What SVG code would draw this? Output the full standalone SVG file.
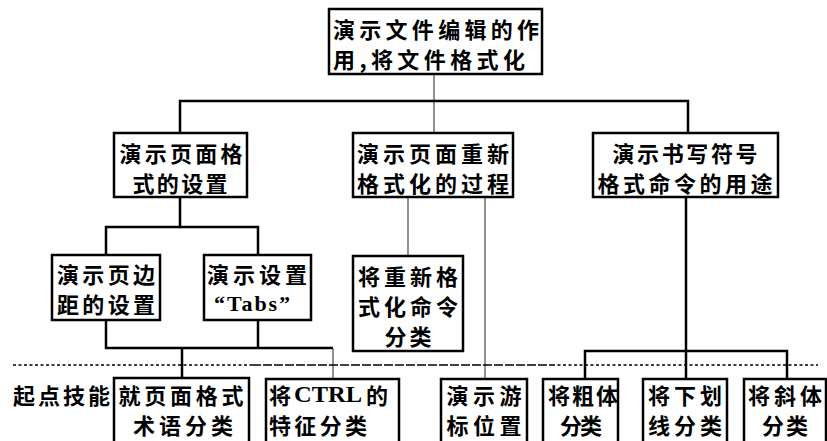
<svg xmlns="http://www.w3.org/2000/svg" width="827" height="441" viewBox="0 0 827 441">
<style>
.box{fill:#fff;stroke:#000;stroke-width:2.5}
.t{font-family:"Noto Sans CJK SC","Noto Sans CJK JP",sans-serif;font-size:22px;font-weight:700;fill:#000;dominant-baseline:central;text-anchor:middle}
.s{text-anchor:start}
.lat{font-family:"Liberation Serif",serif;font-weight:bold}
.thick{stroke:#000;stroke-width:2.5;fill:none}
.thin{stroke:#555;stroke-width:1.3;fill:none}
</style>
<rect width="827" height="441" fill="#fff"/>
<g id="connectors">
<line class="thin" x1="434" y1="74" x2="434" y2="133"/>
<polyline class="thick" points="180,133 180,101 688,101 688,133"/>
<polyline class="thick" points="180,197 180,227 106,227 106,255"/>
<polyline class="thick" points="180,227 258,227 258,255"/>
<polyline class="thick" points="106,320 106,348 333,348"/>
<line class="thick" x1="258" y1="320" x2="258" y2="348"/>
<line class="thick" x1="182" y1="348" x2="182" y2="378"/>
<line class="thin" x1="333" y1="348" x2="333" y2="380"/>
<line class="thin" x1="408" y1="197" x2="408" y2="256"/>
<line class="thin" x1="485" y1="197" x2="485" y2="379"/>
<line class="thick" x1="686" y1="197" x2="686" y2="379"/>
<polyline class="thick" points="585,379 585,351 787,351 787,379"/>
<line x1="13" y1="365" x2="252" y2="365" stroke="#000" stroke-width="1.6" stroke-dasharray="3 2.5"/>
<line x1="252" y1="365" x2="552" y2="365" stroke="#000" stroke-width="1.3" stroke-dasharray="9 2"/>
<line x1="552" y1="365" x2="818" y2="365" stroke="#000" stroke-width="1.6" stroke-dasharray="3 2.5"/>
</g>
<g id="n_top">
<rect class="box" x="329" y="9" width="213" height="65"/>
<text class="t s" x="333" y="28" textLength="206" lengthAdjust="spacing">演示文件编辑的作</text>
<text class="t s" x="333" y="58" textLength="192" lengthAdjust="spacing">用,将文件格式化</text>
</g>
<g id="n_a">
<rect class="box" x="114" y="133" width="133" height="64"/>
<text class="t" x="181" y="152" textLength="123" lengthAdjust="spacing">演示页面格</text>
<text class="t" x="180" y="182" textLength="95" lengthAdjust="spacing">式的设置</text>
</g>
<g id="n_b">
<rect class="box" x="353" y="133" width="160" height="64"/>
<text class="t" x="433" y="152" textLength="152" lengthAdjust="spacing">演示页面重新</text>
<text class="t" x="433" y="182" textLength="152" lengthAdjust="spacing">格式化的过程</text>
</g>
<g id="n_c">
<rect class="box" x="593" y="133" width="185" height="64"/>
<text class="t" x="685" y="152" textLength="145" lengthAdjust="spacing">演示书写符号</text>
<text class="t" x="685" y="182" textLength="175" lengthAdjust="spacing">格式命令的用途</text>
</g>
<g id="n_d">
<rect class="box" x="52" y="255" width="108" height="65"/>
<text class="t" x="106" y="273" textLength="98" lengthAdjust="spacing">演示页边</text>
<text class="t" x="106" y="303" textLength="98" lengthAdjust="spacing">距的设置</text>
</g>
<g id="n_e">
<rect class="box" x="204" y="255" width="107" height="65"/>
<text class="t" x="257" y="273" textLength="100" lengthAdjust="spacing">演示设置</text>
<text class="t lat" x="252" y="303" textLength="76" lengthAdjust="spacing">“Tabs”</text>
</g>
<g id="n_f">
<rect class="box" x="353" y="256" width="110" height="95"/>
<text class="t" x="408" y="275" textLength="100" lengthAdjust="spacing">将重新格</text>
<text class="t" x="408" y="305" textLength="100" lengthAdjust="spacing">式化命令</text>
<text class="t" x="408" y="335" textLength="47" lengthAdjust="spacing">分类</text>
</g>
<g id="n_start">
<text class="t s" x="13" y="394" textLength="97" lengthAdjust="spacing">起点技能</text>
</g>
<g id="n_g">
<rect class="box" x="114" y="378" width="135" height="70"/>
<text class="t" x="181" y="394" textLength="125" lengthAdjust="spacing">就页面格式</text>
<text class="t" x="183" y="424" textLength="100" lengthAdjust="spacing">术语分类</text>
</g>
<g id="n_h">
<rect class="box" x="266" y="379" width="133" height="70"/>
<text class="t s" x="269" y="394">将<tspan class="lat" x="294" font-size="24" textLength="68" lengthAdjust="spacingAndGlyphs">CTRL</tspan><tspan x="366">的</tspan></text>
<text class="t s" x="269" y="424" textLength="98" lengthAdjust="spacing">特征分类</text>
</g>
<g id="n_i">
<rect class="box" x="441" y="379" width="86" height="70"/>
<text class="t" x="484" y="394" textLength="75" lengthAdjust="spacing">演示游</text>
<text class="t" x="484" y="424" textLength="75" lengthAdjust="spacing">标位置</text>
</g>
<g id="n_j">
<rect class="box" x="543" y="379" width="75" height="70"/>
<text class="t" x="583" y="394" textLength="70" lengthAdjust="spacing">将粗体</text>
<text class="t" x="581" y="424" textLength="42" lengthAdjust="spacing">分类</text>
</g>
<g id="n_k">
<rect class="box" x="643" y="379" width="84" height="70"/>
<text class="t" x="685" y="394" textLength="74" lengthAdjust="spacing">将下划</text>
<text class="t" x="685" y="424" textLength="74" lengthAdjust="spacing">线分类</text>
</g>
<g id="n_l">
<rect class="box" x="744" y="379" width="82" height="70"/>
<text class="t" x="785" y="394" textLength="74" lengthAdjust="spacing">将斜体</text>
<text class="t" x="785" y="424" textLength="46" lengthAdjust="spacing">分类</text>
</g>
</svg>
